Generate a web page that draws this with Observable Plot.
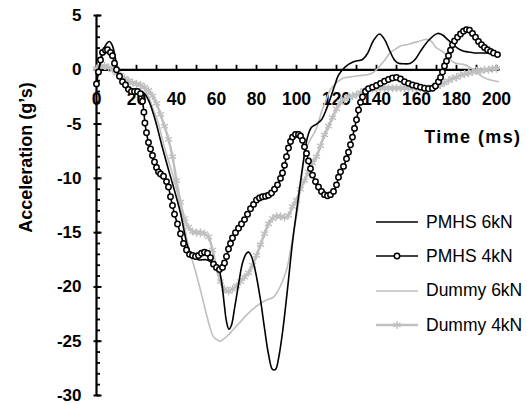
<!DOCTYPE html>
<html>
<head>
<meta charset="utf-8">
<script src="https://cdn.jsdelivr.net/npm/d3@7"></script>
<script src="https://cdn.jsdelivr.net/npm/@observablehq/plot@0.6"></script>
<style>
  body { margin: 0; background: #fff; }
  #chart { position: relative; width: 527px; height: 404px; overflow: hidden; }
  .legend { position: absolute; left: 376px; top: 205px; font: 17.5px "Liberation Sans", Arial, sans-serif; color: #000; }
  .legend .row { display: flex; align-items: center; height: 34.3px; white-space: nowrap; }
  .legend svg { margin-right: 8px; flex: none; }
</style>
</head>
<body>
<div id="chart"></div>
<script>
// Time (ms) and acceleration (g's) for each test
const pmhs6kN = [[0,-1.0],[1.5,0.3],[3.5,1.8],[5,2.4],[6.5,2.6],[8,2.2],[9.5,1.0],[10.5,0.0],[12,-0.8],[13.5,-1.2],[15.5,-1.7],[18,-1.9],[21,-2.0],[23.5,-2.1],[26,-2.8],[29,-4.4],[33,-7.2],[36,-9.2],[38.5,-10.8],[42,-13.2],[45.5,-16.2],[48,-17.2],[51,-17.5],[55,-17.5],[58.5,-17.9],[61,-18.3],[62.5,-19.5],[64,-21.8],[65,-23.2],[66.2,-23.9],[67.5,-23.5],[69,-22.0],[71,-19.8],[73,-17.8],[75,-16.9],[76.2,-16.8],[77.5,-17.2],[79.5,-18.6],[82,-21.2],[84,-23.8],[86,-26.2],[88,-27.6],[89.5,-27.6],[91,-26.6],[93,-24.2],[95.5,-20.2],[98,-15.9],[100.5,-12.4],[103,-9.0],[105.5,-6.2],[107.5,-5.3],[110,-5.0],[112.5,-4.6],[115,-3.6],[117,-2.6],[119,-1.5],[121,-0.5],[124.5,0.3],[128.5,0.75],[133,0.95],[135.5,1.5],[138.5,2.7],[141.5,3.3],[144,2.8],[146.5,1.8],[149,0.9],[151,0.6],[154,0.55],[157,0.6],[159.5,1.0],[162,1.7],[166,2.7],[170.5,3.35],[173,3.2],[175.5,2.8],[178,2.4],[180.5,2.0],[183,1.75],[185.5,1.65],[189,1.55],[193.5,1.55],[201,1.5]];

const pmhs4kN = [[0,-1.3],[1,-0.2],[2,0.9],[3,1.6],[4.5,1.8],[5.5,1.85],[7,1.6],[8,1.3],[9,0.6],[10,0.0],[11.5,-0.6],[13,-1.1],[14.5,-1.4],[16,-1.8],[17.5,-2.0],[19,-2.0],[20.5,-2.0],[22,-2.2],[23,-2.9],[23.7,-3.9],[24.2,-4.9],[25,-5.8],[26,-6.7],[27,-7.3],[28,-7.9],[29,-8.5],[30,-9.0],[31,-9.4],[32,-9.6],[33.5,-9.8],[35,-10.3],[36,-10.8],[37,-11.7],[38,-12.5],[39,-13.3],[40.5,-14.2],[42,-15.1],[43.5,-16.0],[45,-16.6],[46.5,-17.0],[48,-17.1],[49.5,-17.2],[51,-17.1],[52.5,-16.9],[54,-16.8],[55.5,-16.9],[57,-17.3],[58.5,-17.9],[60,-18.2],[61.5,-18.4],[63,-18.2],[64,-17.8],[65,-17.2],[66,-16.5],[67,-16.0],[68,-15.5],[69.5,-15.0],[71,-14.6],[72.5,-14.2],[74,-13.8],[75.5,-13.3],[77,-12.8],[78.5,-12.4],[80,-12.0],[81.5,-11.8],[83,-11.7],[84.5,-11.65],[86,-11.55],[87.5,-11.35],[89,-11.0],[90.5,-10.6],[92,-10.0],[93,-9.5],[94,-8.8],[95,-8.0],[96,-7.2],[97,-6.6],[98,-6.2],[99.5,-5.95],[101,-5.95],[102,-6.1],[103,-6.5],[104,-7.1],[105,-7.7],[106,-8.4],[107,-9.1],[108,-9.7],[109.5,-10.3],[111,-10.8],[112.5,-11.2],[114,-11.5],[115.5,-11.6],[117,-11.5],[118.5,-11.2],[120,-10.6],[121,-9.9],[122,-9.4],[123.5,-8.9],[125,-8.2],[126,-7.6],[127,-6.9],[128,-6.2],[129,-5.4],[130,-4.6],[131,-3.7],[132,-3.0],[133,-2.5],[134.5,-2.0],[136,-1.75],[138,-1.6],[140,-1.45],[142,-1.25],[144,-1.05],[146,-0.9],[148,-0.75],[150,-0.7],[152,-0.85],[154,-1.1],[156,-1.25],[158,-1.4],[160,-1.5],[162,-1.6],[164,-1.7],[166,-1.75],[168,-1.7],[169.5,-1.5],[171,-1.1],[172,-0.7],[173,-0.2],[174,0.35],[175,0.8],[176,1.3],[177,1.8],[178,2.3],[179,2.65],[180.5,3.0],[182,3.3],[183.5,3.55],[185,3.7],[186.5,3.65],[188,3.35],[189.5,3.0],[191,2.6],[192.5,2.3],[194,2.05],[195.5,1.85],[197,1.7],[198.5,1.55],[200.5,1.4]];

const dummy6kN = [[0,0.2],[3,0.4],[6,0.3],[9,0.0],[11.5,-0.5],[13.5,-0.9],[17,-1.2],[20,-1.4],[22,-1.5],[24,-1.8],[26,-2.5],[28.5,-3.7],[31,-5.0],[33.5,-6.8],[36,-8.4],[38.5,-9.9],[41,-11.8],[43.5,-14.0],[46,-16.3],[48,-17.6],[50,-18.9],[52,-20.3],[54,-21.8],[55.5,-22.9],[57,-23.9],[58.5,-24.6],[60.5,-24.9],[62,-25.0],[63.5,-24.8],[65.5,-24.5],[68.5,-23.9],[72,-23.2],[75.5,-22.5],[80.5,-21.7],[85,-21.2],[88,-21.0],[90,-20.6],[92,-19.9],[94,-19.0],[95.5,-18.1],[97,-16.6],[98.5,-15.0],[100.5,-13.0],[102,-10.8],[103.5,-8.6],[105,-7.2],[107,-6.4],[109.5,-5.6],[111,-4.8],[112.5,-3.9],[114.5,-2.9],[117,-1.8],[120,-1.2],[123,-0.8],[127,-0.65],[131,-0.55],[135.5,-0.45],[138,-0.3],[140.5,0.1],[143.5,0.75],[147,1.6],[149.5,1.9],[152,2.2],[155,2.3],[158.5,2.5],[161,2.6],[164.5,2.8],[166.5,2.75],[168,2.5],[169.5,2.1],[171.5,1.85],[173.5,1.6],[176,1.1],[178.5,0.7],[181,0.55],[183.5,0.5],[186,0.3],[189,-0.1],[193.5,-0.7],[197,-0.95],[201,-1.1]];

const dummy4kN = [[0,0.1],[2,0.3],[4,0.35],[6,0.2],[8,0.0],[10,-0.3],[12,-0.5],[14,-0.8],[16,-1.0],[18,-1.2],[20,-1.3],[22,-1.4],[24,-1.6],[26,-1.9],[28,-2.4],[30,-3.1],[32,-4.1],[34,-5.2],[36,-6.4],[38,-8.0],[40,-10.2],[42,-12.2],[44,-13.7],[46,-14.5],[48,-14.9],[50,-15.0],[52,-15.0],[54,-15.1],[56,-15.4],[58,-16.6],[60,-18.3],[62,-19.5],[64,-20.2],[66,-20.4],[68,-20.2],[70,-19.9],[72,-19.5],[74,-19.1],[76,-18.7],[78,-18.0],[80,-17.1],[82,-16.1],[84,-15.1],[86,-14.2],[88,-13.7],[90,-13.5],[92,-13.5],[94,-13.6],[96,-13.4],[98,-12.6],[100,-12.0],[102,-11.0],[104,-10.2],[106,-9.4],[108,-8.6],[110,-8.0],[112,-7.0],[114,-6.0],[116,-5.2],[118,-4.4],[120,-3.6],[122,-3.0],[124,-2.7],[126,-2.5],[128,-2.4],[130,-2.3],[132,-2.1],[134,-1.9],[136,-1.8],[138,-1.75],[140,-1.7],[142,-1.7],[144,-1.7],[146,-1.7],[148,-1.7],[150,-1.7],[152,-1.7],[154,-1.7],[156,-1.7],[158,-1.7],[160,-1.7],[162,-1.7],[164,-1.7],[166,-1.7],[168,-1.6],[170,-1.5],[172,-1.4],[174,-1.2],[176,-1.0],[178,-0.8],[180,-0.7],[182,-0.5],[184,-0.4],[186,-0.3],[188,-0.2],[190,-0.1],[192,-0.1],[194,0.0],[196,0.0],[198,0.1],[200,0.1]];

const seriesNames = ["PMHS 6kN", "PMHS 4kN", "Dummy 6kN", "Dummy 4kN"];
const xTickLabels = [0, 20, 40, 60, 80, 100, 120, 140, 160, 180, 200];
const yTickLabels = [5, 0, -5, -10, -15, -20, -25, -30];
const xTickMarks = d3.range(10, 201, 10);
const yMinorTicks = d3.range(-30, 6, 1);

const BLACK = "#000";
const GREY = "#bfbfbf";
const FONT = "'Liberation Sans', Arial, Helvetica, sans-serif";

// small tick glyphs drawn with the dot mark
const tickUp = {draw(ctx) { ctx.moveTo(0, 0); ctx.lineTo(0, -5); }};
const tickMinor = {draw(ctx) { ctx.moveTo(0, 0); ctx.lineTo(3.5, 0); }};
const tickMajor = {draw(ctx) { ctx.moveTo(-3, 0); ctx.lineTo(5, 0); }};

const tx = d => d[0];
const ay = d => d[1];

const chart = Plot.plot({
  width: 527,
  height: 404,
  marginTop: 15,
  marginBottom: 9,
  marginLeft: 96,
  marginRight: 27,
  x: {domain: [0, 202], axis: null},
  y: {domain: [-30, 5], axis: null},
  style: {fontFamily: FONT, background: "#fff", color: "#000", overflow: "visible"},
  marks: [
    // tick labels
    Plot.text(xTickLabels, {x: d => d, y: 0, dy: 30, text: d => String(d), fontWeight: "bold", fontSize: 17.5, fill: BLACK}),
    Plot.text(yTickLabels, {x: 0, y: d => d, dx: -15, text: d => String(d), textAnchor: "end", fontWeight: "bold", fontSize: 17, fill: BLACK}),
    // axis titles
    Plot.text(["Time (ms)"], {frameAnchor: "top-right", dx: 21, dy: 122, textAnchor: "end", lineAnchor: "middle", fontWeight: "bold", fontSize: 18, fill: BLACK}),
    Plot.text(["Acceleration (g’s)"], {frameAnchor: "left", dx: -70.5, dy: -48, rotate: -90, textAnchor: "middle", lineAnchor: "middle", fontWeight: "bold", fontSize: 18, fill: BLACK}),
    // axes crossing at the origin
    Plot.ruleY([0], {stroke: BLACK, strokeWidth: 2.2}),
    Plot.ruleX([0], {stroke: BLACK, strokeWidth: 2.2}),
    Plot.dot(xTickMarks, {x: d => d, y: 0, symbol: tickUp, fill: "none", stroke: BLACK, strokeWidth: 1.8}),
    Plot.dot(yMinorTicks, {x: 0, y: d => d, symbol: tickMinor, fill: "none", stroke: BLACK, strokeWidth: 1.8}),
    Plot.dot(yTickLabels, {x: 0, y: d => d, symbol: tickMajor, fill: "none", stroke: BLACK, strokeWidth: 2}),
    // Dummy 4kN: grey line with asterisk markers
    Plot.line(dummy4kN, {x: tx, y: ay, stroke: GREY, strokeWidth: 2.5, curve: "catmull-rom"}),
    Plot.dot(dummy4kN, {x: tx, y: ay, symbol: "asterisk", r: 3.8, stroke: GREY, strokeWidth: 1.4}),
    // Dummy 6kN: thin grey line
    Plot.line(dummy6kN, {x: tx, y: ay, stroke: GREY, strokeWidth: 1.6, curve: "catmull-rom"}),
    // PMHS 6kN: thin black line
    Plot.line(pmhs6kN, {x: tx, y: ay, stroke: BLACK, strokeWidth: 1.6, curve: "catmull-rom"}),
    // PMHS 4kN: black line with open circles
    Plot.line(pmhs4kN, {x: tx, y: ay, stroke: BLACK, strokeWidth: 1.6, curve: "catmull-rom"}),
    Plot.dot(pmhs4kN, {x: tx, y: ay, r: 2.7, fill: "#fff", stroke: BLACK, strokeWidth: 1.5})
  ]
});

// slightly open tracking on the x-axis title
d3.select(chart).selectAll("text").filter(function () { return this.textContent === "Time (ms)"; })
  .style("letter-spacing", "1.4px");

const container = document.getElementById("chart");
container.appendChild(chart);

// legend
const legend = d3.select(container).append("div").attr("class", "legend");
const swatchStyles = [
  {stroke: BLACK, width: 1.6, marker: null},
  {stroke: BLACK, width: 1.6, marker: "circle"},
  {stroke: GREY, width: 1.6, marker: null},
  {stroke: GREY, width: 2.5, marker: "asterisk"}
];
seriesNames.forEach((name, i) => {
  const s = swatchStyles[i];
  const row = legend.append("div").attr("class", "row");
  const svg = row.append("svg").attr("width", 42).attr("height", 12);
  svg.append("line").attr("x1", 0).attr("x2", 42).attr("y1", 6).attr("y2", 6)
    .attr("stroke", s.stroke).attr("stroke-width", s.width);
  if (s.marker === "circle") {
    svg.append("circle").attr("cx", 21).attr("cy", 6).attr("r", 2.7)
      .attr("fill", "#fff").attr("stroke", BLACK).attr("stroke-width", 1.5);
  } else if (s.marker === "asterisk") {
    svg.append("path").attr("transform", "translate(21,6)")
      .attr("d", d3.symbol(d3.symbolAsterisk, Math.PI * 3.8 * 3.8)())
      .attr("fill", "none").attr("stroke", GREY).attr("stroke-width", 1.4);
  }
  row.append("span").text(name);
});
</script>
</body>
</html>
